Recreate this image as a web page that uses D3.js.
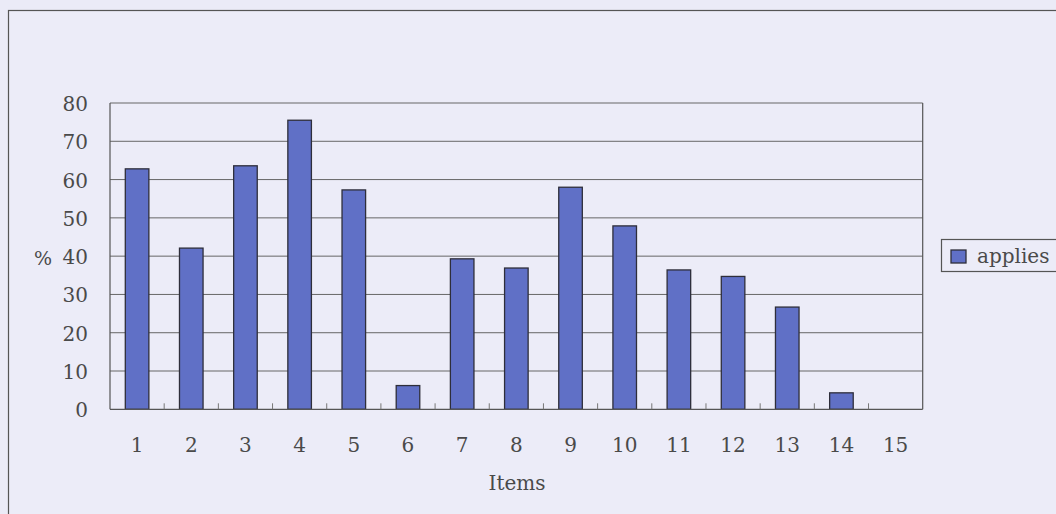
<!DOCTYPE html>
<html>
<head>
<meta charset="utf-8">
<script src="https://cdn.jsdelivr.net/npm/d3@7"></script>
<style>
  html, body { margin: 0; padding: 0; background: #ebebf7; }
  svg { display: block; }
  text { font-family: "DejaVu Serif", "Liberation Serif", serif; fill: #4a4a4a; }
</style>
</head>
<body>
<svg id="chart" width="1056" height="514"></svg>
<script>
// Item numbers along the x axis
const categories = ["1","2","3","4","5","6","7","8","9","10","11","12","13","14","15"];
// Share of respondents (%) for which each item applies
const applies = [62.8, 42.1, 63.6, 75.5, 57.3, 6.2, 39.3, 36.9, 58.0, 47.9, 36.4, 34.7, 26.7, 4.3, 0];
// Y axis ticks
const yTicks = [0, 10, 20, 30, 40, 50, 60, 70, 80];
const seriesName = "applies";

const svg = d3.select("#chart");
const plot = { left: 110, right: 922.7, top: 103, bottom: 409.3 };

// Outer chart frame (runs past the right and bottom edges)
svg.append("rect")
  .attr("x", 8.5).attr("y", 10.5)
  .attr("width", 1100).attr("height", 600)
  .attr("fill", "#ececf8").attr("stroke", "#555").attr("stroke-width", 1.2);

const x = d3.scaleBand().domain(categories)
  .range([plot.left, plot.right]).paddingInner(0.565).paddingOuter(0.2825);
const xOuter = d3.scaleBand().domain(categories).range([plot.left, plot.right]);
const y = d3.scaleLinear().domain([0, 80]).range([plot.bottom, plot.top]);

// Horizontal gridlines
svg.append("g").selectAll("line").data(yTicks.filter(d => d > 0)).join("line")
  .attr("x1", plot.left).attr("x2", plot.right)
  .attr("y1", d => y(d)).attr("y2", d => y(d))
  .attr("stroke", "#666").attr("stroke-width", 1);

// Plot area sides
svg.append("line").attr("x1", plot.left).attr("x2", plot.left)
  .attr("y1", plot.top).attr("y2", plot.bottom).attr("stroke", "#555").attr("stroke-width", 1.2);
svg.append("line").attr("x1", plot.right).attr("x2", plot.right)
  .attr("y1", plot.top).attr("y2", plot.bottom).attr("stroke", "#555").attr("stroke-width", 1.2);

// Bars (zero values draw nothing)
const barData = categories.map((c, i) => ({ c, v: applies[i] })).filter(d => d.v > 0);
svg.append("g").selectAll("rect").data(barData)
  .join("rect")
  .attr("x", d => x(d.c))
  .attr("y", d => y(d.v))
  .attr("width", x.bandwidth())
  .attr("height", d => y(0) - y(d.v))
  .attr("fill", "#6070c6")
  .attr("stroke", "#2e2e3a").attr("stroke-width", 1.3);

// X axis line with inside tick marks at category boundaries
svg.append("line").attr("x1", plot.left).attr("x2", plot.right)
  .attr("y1", plot.bottom).attr("y2", plot.bottom).attr("stroke", "#555").attr("stroke-width", 1.3);
svg.append("g").selectAll("line").data(categories.slice(1)).join("line")
  .attr("x1", d => xOuter(d)).attr("x2", d => xOuter(d))
  .attr("y1", plot.bottom).attr("y2", plot.bottom - 6)
  .attr("stroke", "#777").attr("stroke-width", 1);

// Y tick labels
svg.append("g").selectAll("text").data(yTicks).join("text")
  .attr("x", 88).attr("y", d => y(d) + 8)
  .attr("text-anchor", "end").attr("font-size", 20)
  .text(d => d);

// X tick labels
svg.append("g").selectAll("text").data(categories).join("text")
  .attr("x", d => xOuter(d) + xOuter.bandwidth() / 2).attr("y", 452)
  .attr("text-anchor", "middle").attr("font-size", 20)
  .text(d => d);

// Axis titles
svg.append("text").attr("x", 43).attr("y", 265).attr("text-anchor", "middle")
  .attr("font-size", 19).text("%");
svg.append("text").attr("x", 517).attr("y", 490).attr("text-anchor", "middle")
  .attr("font-size", 20).text("Items");

// Legend
const lg = svg.append("g");
lg.append("rect").attr("x", 941.5).attr("y", 239.5).attr("width", 130).attr("height", 32)
  .attr("fill", "#ececf8").attr("stroke", "#555").attr("stroke-width", 1.2);
lg.append("rect").attr("x", 951).attr("y", 250).attr("width", 15).attr("height", 13)
  .attr("fill", "#6070c6").attr("stroke", "#2e2e3a").attr("stroke-width", 1.3);
lg.append("text").attr("x", 977).attr("y", 263).attr("font-size", 20).text(seriesName);
</script>
</body>
</html>
